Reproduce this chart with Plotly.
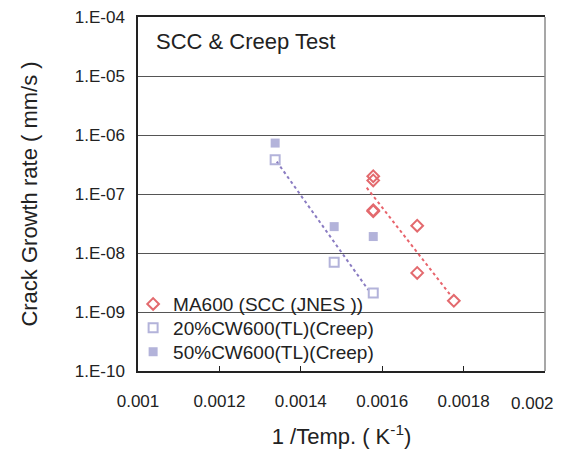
import plotly.graph_objects as go

# ---- data ----
ma600_x = [0.001578, 0.001578, 0.001578, 0.001578, 0.001686, 0.001686, 0.001776]
ma600_y = [2.0e-7, 1.7e-7, 5.3e-8, 5.1e-8, 2.9e-8, 4.6e-9, 1.55e-9]

cw20_x = [0.001337, 0.001482, 0.001578]
cw20_y = [3.8e-7, 7.0e-9, 2.1e-9]

cw50_x = [0.001337, 0.001482, 0.001578]
cw50_y = [7.3e-7, 2.8e-8, 1.9e-8]

trend_ma_x = [0.001562, 0.001770]
trend_ma_y = [1.28e-7, 1.85e-9]

trend_cw_x = [0.001341, 0.001566]
trend_cw_y = [3.53e-7, 2.36e-9]

x_tickvals = [0.001, 0.0012, 0.0014, 0.0016, 0.0018, 0.002]
x_ticktext = ["0.001", "0.0012", "0.0014", "0.0016", "0.0018", ""]
x_last_label = "0.002"   # drawn shifted left (as in the reference) so it stays inside the page
y_tickvals = [1e-4, 1e-5, 1e-6, 1e-7, 1e-8, 1e-9, 1e-10]
y_ticktext = ["1.E-04", "1.E-05", "1.E-06", "1.E-07", "1.E-08", "1.E-09", "1.E-10"]

names = ["MA600 (SCC (JNES ))", "20%CW600(TL)(Creep)", "50%CW600(TL)(Creep)"]

RED = "#e36a6e"
LAV = "#b3b3da"
PURPLE_TREND = "#8a7cc2"
RED_TREND = "#e8646c"
FONT = "Arial, 'Liberation Sans', sans-serif"

fig = go.Figure()

fig.add_trace(go.Scatter(x=trend_ma_x, y=trend_ma_y, mode="lines",
                         line=dict(color=RED_TREND, width=2, dash="dot"),
                         showlegend=False, hoverinfo="skip"))
fig.add_trace(go.Scatter(x=trend_cw_x, y=trend_cw_y, mode="lines",
                         line=dict(color=PURPLE_TREND, width=2, dash="dot"),
                         showlegend=False, hoverinfo="skip"))

fig.add_trace(go.Scatter(x=ma600_x, y=ma600_y, mode="markers", name=names[0],
                         legend="legend",
                         marker=dict(symbol="diamond-open", size=9, color=RED,
                                     line=dict(width=2, color=RED))))
fig.add_trace(go.Scatter(x=cw20_x, y=cw20_y, mode="markers", name=names[1],
                         legend="legend2",
                         marker=dict(symbol="square-open", size=9, color=LAV,
                                     line=dict(width=2, color=LAV))))
fig.add_trace(go.Scatter(x=cw50_x, y=cw50_y, mode="markers", name=names[2],
                         legend="legend3",
                         marker=dict(symbol="square", size=9, color=LAV,
                                     line=dict(width=0))))

leg_common = dict(xanchor="left", yanchor="middle", bgcolor="rgba(255,255,255,0)",
                  borderwidth=0, font=dict(size=19, family=FONT, color="#222"),
                  itemwidth=30)

fig.update_layout(
    width=563, height=449,
    margin=dict(l=138, r=18, t=17, b=78, autoexpand=False),
    paper_bgcolor="white", plot_bgcolor="white",
    font=dict(family=FONT, color="#222", size=17),
    showlegend=True,
    legend=dict(x=-0.012, y=0.189, **leg_common),
    legend2=dict(x=-0.012, y=0.1215, **leg_common),
    legend3=dict(x=-0.012, y=0.054, **leg_common),
    xaxis=dict(range=[0.00099999, 0.00200001], tickvals=x_tickvals, ticktext=x_ticktext,
               automargin=False,
               showgrid=False, zeroline=False, showline=True, linecolor="#222",
               linewidth=1.5, mirror=True, ticks="inside", ticklen=5, tickcolor="#222",
               tickfont=dict(size=17), ticklabelstandoff=14,
               title=dict(text="1 /Temp. ( K<sup>-1</sup>)", font=dict(size=22), standoff=21)),
    yaxis=dict(type="log", range=[-10, -4], tickvals=y_tickvals, ticktext=y_ticktext,
               automargin=False,
               showgrid=True, gridcolor="#555", gridwidth=1.2,
               showline=True, linecolor="#222", linewidth=1.5, ticks="",
               tickfont=dict(size=17), ticklabelstandoff=8,
               title=dict(text="Crack Growth rate ( mm/s )", font=dict(size=22), standoff=31)),
    shapes=[
        dict(type="line", xref="paper", yref="paper", x0=1, x1=1, y0=0, y1=1,
             line=dict(color="#8a8a8a", width=1.5), layer="above"),
        dict(type="rect", xref="paper", yref="paper", x0=0.037, x1=0.58, y0=0.03, y1=0.22,
             fillcolor="white", line=dict(width=0), layer="between"),
    ],
    annotations=[
        dict(text="SCC & Creep Test", xref="paper", yref="paper", x=0.04, y=0.93,
             xanchor="left", yanchor="middle", showarrow=False,
             font=dict(size=22, family=FONT, color="#222")),
        dict(text=x_last_label, xref="paper", yref="paper", x=1.0275, y=-0.0932,
             xanchor="right", yanchor="middle", showarrow=False,
             font=dict(size=17, family=FONT, color="#222")),
    ],
)

fig.write_html("out.html")
